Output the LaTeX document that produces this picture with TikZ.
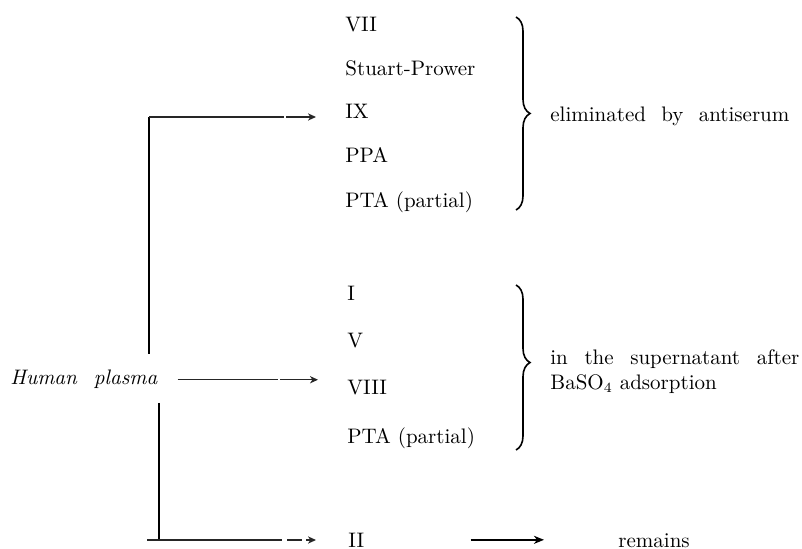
\documentclass[tikz,border=0pt]{standalone}
\usepackage{amsmath}
\usetikzlibrary{arrows.meta,decorations.pathreplacing}

\tikzset{
  txt/.style={anchor=base west, inner sep=0pt, font=\fontsize{10.5}{12.5}\selectfont},
  flow/.style={line width=0.7pt, black!85, -{Stealth[length=4pt,width=3.6pt,inset=1.2pt]}},
  rail/.style={line width=0.75pt},
  grp/.style={line width=0.8pt, decorate, decoration={brace, amplitude=7pt}}
}

\begin{document}
\begin{tikzpicture}[x=0.5pt, y=-0.5pt]
        \useasboundingbox (0,0) rectangle (802,549);

        % first fraction
        \foreach \lbl/\yy [count=\k] in {VII/32, Stuart-Prower/76, IX/119, PPA/163, PTA (partial)/208}
        \node[txt] (a\k) at (345,\yy) {\lbl};

        % second fraction
        \foreach \lbl/\yy [count=\k] in {I/301, V/348, VIII/395, PTA (partial)/444}
        \node[txt] (b\k) at (347,\yy) {\lbl};

        \node[txt] (ii) at (348,547) {II};
        \node[txt] (remains) at (618,547) {remains};
        \node[txt, font=\fontsize{10.5}{12.5}\selectfont\itshape] (plasma) at (10,385) {Human\hspace*{8.5pt}plasma};

        \node[txt] (elim) at (550,122) {\makebox[119.5pt][s]{eliminated by antiserum}};
        \node[txt, anchor=north west, align=left] (super) at (550,349)
            {\makebox[124.5pt][s]{in the supernatant after}\\BaSO$_4$ adsorption};

        \draw[grp] (516,17) -- (516,210);
        \draw[grp, decoration={aspect=0.47}] (516,285) -- (516,450);

        % branches
        \coordinate (j1) at (149,117);
        \coordinate (j1b) at (149,354);
        \coordinate (j2) at (159,403);
        \coordinate (j2b) at (159,540);
        \coordinate (j0) at (147,540);

        \draw[rail] (j1) -- (j1b);
        \draw[rail] (j2) -- (j2b);

        \draw[flow, dash pattern=on 67.5pt off 1.2pt on 30pt, shorten >=14.5pt] (j1) -- (j1 -| a3.west);
        \draw[flow, dash pattern=on 50pt off 1.2pt on 30pt, shorten <=10pt, shorten >=14.5pt]
            (plasma.east) -- (plasma.east -| b3.west);
        \draw[flow, dash pattern=on 67.5pt off 2.5pt on 7.5pt off 2pt on 20pt, shorten >=16pt] (j0) -- (j0 -| ii.west);

        \draw[line width=1pt, -{Stealth[length=5pt,width=4pt,inset=1.5pt]}, shorten <=53pt, shorten >=37pt]
            (ii.east) -- (ii.east -| remains.west);

    \end{tikzpicture}
\end{document}
